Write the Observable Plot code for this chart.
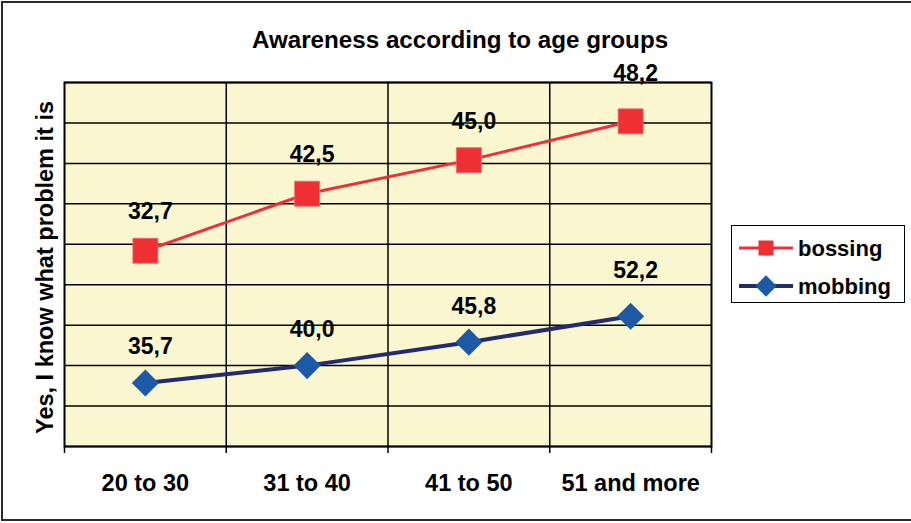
<!DOCTYPE html>
<html><head><meta charset="utf-8">
<script src="https://cdn.jsdelivr.net/npm/d3@7"></script>
<script src="https://cdn.jsdelivr.net/npm/@observablehq/plot@0.6"></script>
<style>
body{margin:0;background:#fff;}
#wrap{position:relative;width:911px;height:523px;overflow:hidden;font-family:"Liberation Sans",Arial,sans-serif;background:#fff;}
#border{position:absolute;left:1px;top:1px;width:940px;height:520px;box-sizing:border-box;border:2px solid #2a2a2a;}
#chart{position:absolute;left:0;top:0;}
#title{position:absolute;left:0;top:0;}
#legend{position:absolute;left:731px;top:225px;width:174px;height:78px;box-sizing:border-box;border:1.5px solid #000;background:#fff;}
</style>
</head><body>
<div id="wrap">
  <div id="border"></div>
  <div id="chart"></div>
  <svg id="title" width="911" height="70"><text x="460" y="48" text-anchor="middle" font-family="Liberation Sans, Arial, sans-serif" font-weight="bold" font-size="24.2" fill="#000">Awareness according to age groups</text></svg>
  <div id="legend"></div>
</div>
<script>
const categories = ["20 to 30", "31 to 40", "41 to 50", "51 and more"];
const bossing = [32.7, 42.5, 45.0, 48.2];
const mobbing = [35.7, 40.0, 45.8, 52.2];
const seriesNames = ["bossing", "mobbing"];
const yAxisTitle = "Yes, I know what problem it is";
const yGrid = [20, 30, 40, 50, 60, 70, 80, 90, 100, 110];

const RED = "#EE3035", BLUE = "#1C5AA8", NAVY = "#232B70";
const fmt = v => v.toFixed(1).replace(".", ",");

// stacked line chart (as in the original spreadsheet): bossing stacked on mobbing
const mob = categories.map((c, i) => ({i, cat: c, value: mobbing[i], y: mobbing[i]}));
const bos = categories.map((c, i) => ({i, cat: c, value: bossing[i], y: mobbing[i] + bossing[i]}));
const idx = categories.map((c, i) => i);
const last = categories.length - 1;
const bounds = d3.range(categories.length + 1).map(k => k - 0.5);
const innerBounds = bounds.slice(1, -1);
const lbl = {x: "i", y: "y", text: d => fmt(d.value), dx: 5, fontSize: 23, fontWeight: "bold", fill: "#000"};

const chart = Plot.plot({
  width: 911, height: 523,
  marginLeft: 64, marginRight: 200, marginTop: 82, marginBottom: 77,
  style: {fontFamily: "Liberation Sans, Arial, sans-serif", fontWeight: "bold", fontSize: "22px", background: "transparent", overflow: "visible", color: "#000"},
  x: {type: "linear", domain: [-0.5, categories.length - 0.5], label: null, axis: null},
  y: {domain: [20, 110], label: null, axis: null},
  marks: [
    Plot.frame({fill: "#FAF6D0"}),
    Plot.ruleY(yGrid, {stroke: "#000", strokeWidth: 1.5}),
    Plot.ruleX(innerBounds, {stroke: "#000", strokeWidth: 1.5}),
    Plot.frame({stroke: "#000", strokeWidth: 2}),
    Plot.axisX({ticks: bounds, tickSize: 7, tickFormat: () => "", stroke: "#000", strokeWidth: 1.5, label: null}),
    Plot.axisX({ticks: idx, tickSize: 0, tickPadding: 28, tickFormat: i => categories[i], fontSize: 23.5, fontWeight: "bold", label: null}),
    Plot.text([yAxisTitle], {frameAnchor: "left", textAnchor: "middle", rotate: -90, dx: -19, dy: 3, fontSize: 23.5, fontWeight: "bold", text: d => d}),
    Plot.line(bos, {x: "i", y: "y", stroke: RED, strokeWidth: 3}),
    Plot.line(mob, {x: "i", y: "y", stroke: NAVY, strokeWidth: 4}),
    Plot.dot(bos, {x: "i", y: "y", symbol: "square", r: 14.1, fill: RED, stroke: "#F26A6A", strokeWidth: 0.8}),
    Plot.dot(mob, {x: "i", y: "y", symbol: "diamond2", r: 12.2, fill: BLUE}),
    Plot.text(bos, {...lbl, filter: d => d.i < last, dy: -39}),
    Plot.text(bos, {...lbl, filter: d => d.i === last, dy: -48}),
    Plot.text(mob, {...lbl, filter: d => d.i < last, dy: -36}),
    Plot.text(mob, {...lbl, filter: d => d.i === last, dy: -46})
  ]
});
document.getElementById("chart").appendChild(chart);

// legend
const lg = d3.select("#legend").append("svg").attr("width", 172).attr("height", 76).style("position", "absolute").style("left", "-1px").style("top", "-1px");
const rows = [
  {name: seriesNames[0], line: RED, fill: RED, sym: d3.symbolSquare, size: 225, w: 3, y: 23},
  {name: seriesNames[1], line: NAVY, fill: BLUE, sym: d3.symbolDiamond2, size: 290, w: 4, y: 61}
];
rows.forEach(r => {
  lg.append("line").attr("x1", 8).attr("x2", 62).attr("y1", r.y).attr("y2", r.y).attr("stroke", r.line).attr("stroke-width", r.w);
  lg.append("path").attr("d", d3.symbol(r.sym, r.size)()).attr("transform", `translate(35,${r.y})`).attr("fill", r.fill);
  lg.append("text").attr("x", 67).attr("y", r.y + 8).attr("font-family", "Liberation Sans, Arial, sans-serif").attr("font-weight", "bold").attr("font-size", 22).text(r.name);
});
</script>
</body></html>
